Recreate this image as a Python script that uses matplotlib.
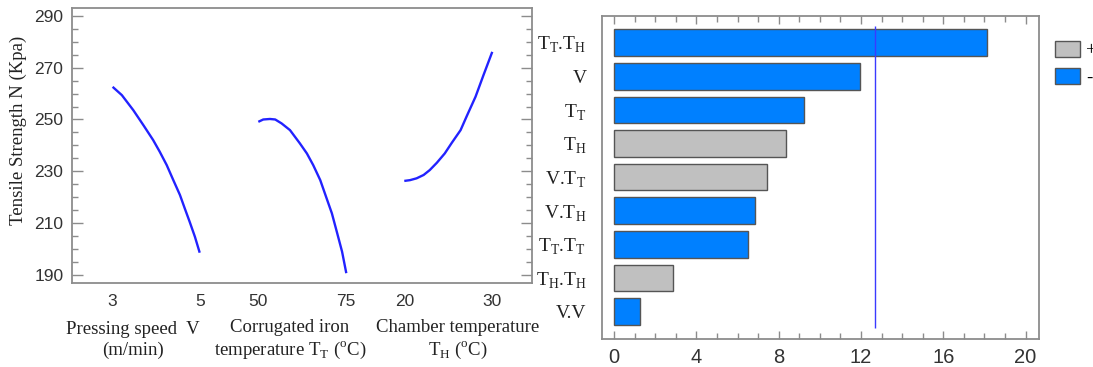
import matplotlib
matplotlib.use("Agg")
import matplotlib.pyplot as plt
from matplotlib.patches import Patch
from matplotlib.ticker import MultipleLocator, FixedLocator
import numpy as np

# ---------------- data ----------------
# Main effects (left panel)
v_vals = [3.02, 3.23, 3.49, 3.72, 3.94, 4.09, 4.25, 4.40, 4.55, 4.66, 4.77, 4.89, 5.0]
v_resp = [262.6, 259.4, 253.6, 247.8, 242.1, 237.6, 232.4, 226.6, 220.9, 215.7, 210.6, 204.8, 198.6]
tt_vals = [50.0, 51.4, 53.3, 54.8, 56.6, 59.0, 61.8, 63.8, 65.6, 67.6, 69.4, 70.9, 72.3, 73.8, 75.0]
tt_resp = [249.1, 250.0, 250.2, 250.0, 248.5, 245.9, 240.8, 236.9, 232.4, 226.6, 219.6, 213.8, 206.7, 199.0, 190.7]
th_vals = [20.0, 20.65, 21.4, 22.2, 22.9, 23.7, 24.6, 25.4, 26.4, 27.1, 28.1, 29.0, 30.0]
th_resp = [226.3, 226.6, 227.3, 228.6, 230.5, 233.3, 236.9, 241.0, 245.9, 251.3, 258.8, 267.1, 276.1]
factor_ranges = [(3, 5), (50, 75), (20, 30)]
factor_ticks = [[3, 5], [50, 75], [20, 30]]
factor_labels = ["Pressing speed  V\n(m/min)",
                 "Corrugated iron\ntemperature T$_\\mathregular{T}$ ($^\\mathregular{o}$C)",
                 "Chamber temperature\nT$_\\mathregular{H}$ ($^\\mathregular{o}$C)"]
y_label = "Tensile Strength N (Kpa)"

# Pareto chart (right panel)
effects = ["T$_\\mathregular{T}$.T$_\\mathregular{H}$", "V", "T$_\\mathregular{T}$",
           "T$_\\mathregular{H}$", "V.T$_\\mathregular{T}$", "V.T$_\\mathregular{H}$",
           "T$_\\mathregular{T}$.T$_\\mathregular{T}$", "T$_\\mathregular{H}$.T$_\\mathregular{H}$", "V.V"]
effect_vals = [18.14, 11.94, 9.21, 8.37, 7.41, 6.86, 6.52, 2.86, 1.26]
effect_sign = ["-", "-", "-", "+", "+", "-", "-", "+", "-"]
critical = 12.7

# ---------------- style ----------------
SERIF = "Liberation Serif"
SANS = ["Liberation Sans Narrow", "Liberation Sans", "DejaVu Sans"]
FRAME = "#8c8c8c"
BLUE_LINE = "#2222ff"
BLUE_BAR = "#0080ff"
GRAY_BAR = "#c0c0c0"

fig = plt.figure(figsize=(10.93, 3.67), dpi=100)

# ---------------- left panel ----------------
axL = fig.add_axes([71.7/1093, 1-283.3/367, (532.3-71.7)/1093, (283.3-8.3)/367])
seg_start = [0.0, 1.666, 3.325]   # layout positions of each factor segment

def to_pos(i, vals):
    lo, hi = factor_ranges[i]
    return [seg_start[i] + (v - lo) / (hi - lo) for v in vals]

for i, (xs, ys) in enumerate([(v_vals, v_resp), (tt_vals, tt_resp), (th_vals, th_resp)]):
    axL.plot(to_pos(i, xs), ys, color=BLUE_LINE, lw=1.7, solid_capstyle="butt",
             solid_joinstyle="round")

axL.set_xlim(-0.455, 4.78)
axL.set_ylim(186.8, 292.9)
xt, xtl = [], []
for i in range(3):
    xt += to_pos(i, factor_ticks[i])
    xtl += [str(t) for t in factor_ticks[i]]
axL.set_xticks(xt)
axL.set_xticklabels(xtl)
axL.yaxis.set_major_locator(FixedLocator([190, 210, 230, 250, 270, 290]))
axL.yaxis.set_minor_locator(MultipleLocator(5))
axL.tick_params(axis="x", length=0, pad=8, labelsize=12.5, labelcolor="#333333")
axL.tick_params(axis="y", which="major", direction="in", length=8, width=1, color=FRAME,
                left=True, right=True, labelsize=12.5, labelcolor="#333333", pad=6)
axL.tick_params(axis="y", which="minor", direction="in", length=4, width=1, color=FRAME,
                left=True, right=True)
for lab in axL.get_xticklabels() + axL.get_yticklabels():
    lab.set_family(SANS)
for s in axL.spines.values():
    s.set_color(FRAME)
    s.set_linewidth(1.3)

fig.text(18/1093, 1-130/367, y_label, rotation=90, ha="center", va="center",
         family=SERIF, fontsize=13.5, color="#222222")
for cx, lab in zip([133, 290, 458], factor_labels):
    fig.text(cx/1093, 1-340/367, lab, ha="center", va="center", multialignment="center",
             family=SERIF, fontsize=13.5, color="#222222", linespacing=1.25)

# ---------------- right panel ----------------
axR = fig.add_axes([601.7/1093, 1-338.5/367, (1039-601.7)/1093, (338.5-15.7)/367])
ypos = np.arange(len(effects))
colors = [BLUE_BAR if s == "-" else GRAY_BAR for s in effect_sign]
axR.barh(ypos, effect_vals, height=0.79, color=colors, edgecolor="#555555", linewidth=1.0, zorder=2)
axR.vlines(critical, -0.5, len(effects) - 0.5, color="#3a3aff", lw=1.0, zorder=3)
axR.set_ylim(len(effects) - 1 + 0.8, -0.8)
axR.set_xlim(-0.6, 20.65)
axR.set_yticks(ypos)
axR.set_yticklabels(effects)
axR.xaxis.set_major_locator(MultipleLocator(4))
axR.xaxis.set_minor_locator(MultipleLocator(1))
axR.tick_params(axis="y", length=0, pad=11, labelsize=14, labelcolor="#222222")
axR.tick_params(axis="x", which="major", direction="in", length=6, width=1, color=FRAME,
                top=True, bottom=True, labelsize=14.5, labelcolor="#333333", pad=7)
axR.tick_params(axis="x", which="minor", direction="in", length=4, width=1, color=FRAME,
                top=True, bottom=True)
for lab in axR.get_yticklabels():
    lab.set_family(SERIF)
for lab in axR.get_xticklabels():
    lab.set_family(SANS)
for s in axR.spines.values():
    s.set_color(FRAME)
    s.set_linewidth(1.3)

handles = [Patch(facecolor=GRAY_BAR, edgecolor="#555555", linewidth=1.0),
           Patch(facecolor=BLUE_BAR, edgecolor="#555555", linewidth=1.0)]
fig.legend(handles, ["+", "-"], loc="upper left", bbox_to_anchor=(1055/1093, 1-41/367),
           frameon=False, borderpad=0, borderaxespad=0, handlelength=1.35, handleheight=0.95,
           handletextpad=0.3, labelspacing=0.45, prop={"family": SERIF, "size": 13.5})

fig.savefig("out.png", dpi=100)
